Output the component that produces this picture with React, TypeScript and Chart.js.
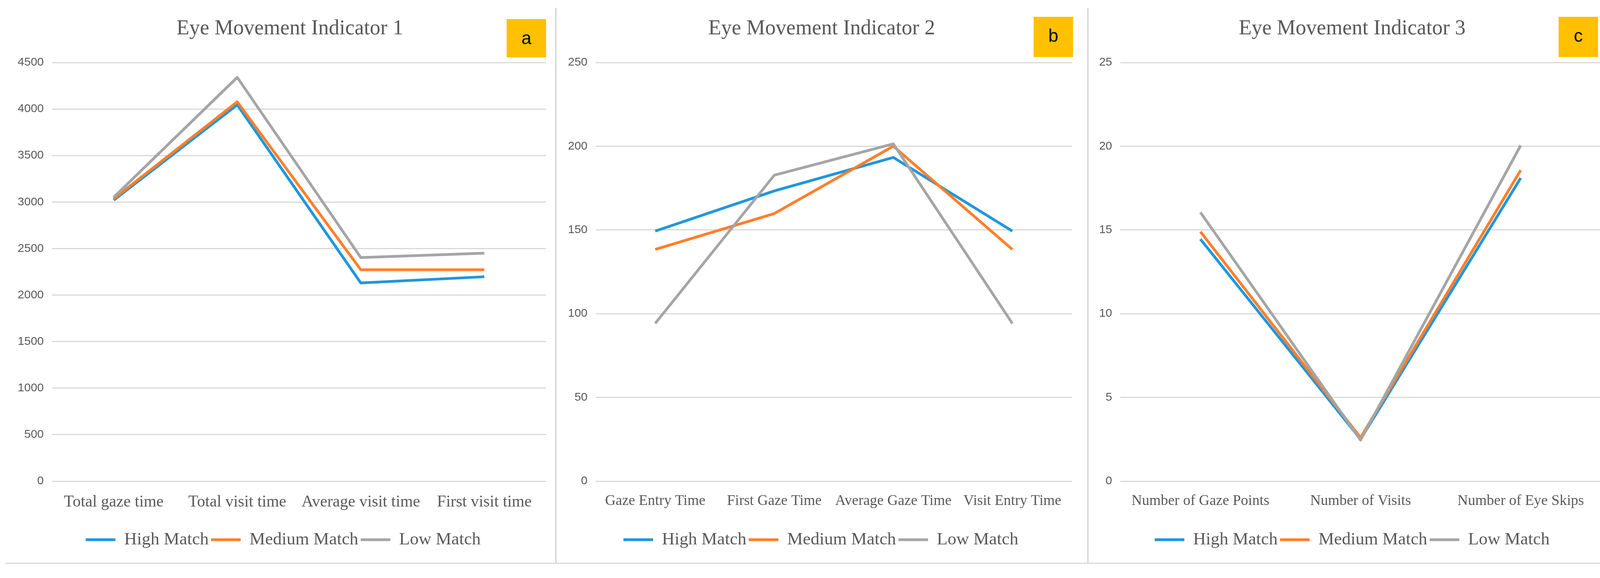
import React, { useEffect, useRef } from 'react';
import { Chart, registerables } from 'chart.js';

Chart.register(...registerables);

// ---------- data ----------
const seriesNames = ['High Match', 'Medium Match', 'Low Match'];
const seriesColors = ['#2196DC', '#FF7F2A', '#A5A5A5'];

const titleA = 'Eye Movement Indicator 1';
const catsA = ['Total gaze time', 'Total visit time', 'Average visit time', 'First visit time'];
const highA = [3020, 4045, 2130, 2197];
const mediumA = [3035, 4077, 2272, 2272];
const lowA = [3052, 4340, 2403, 2450];

const titleB = 'Eye Movement Indicator 2';
const catsB = ['Gaze Entry Time', 'First Gaze Time', 'Average Gaze Time', 'Visit Entry Time'];
const highB = [149.3, 173.3, 193.3, 149.3];
const mediumB = [138.4, 159.8, 200, 138.4];
const lowB = [94.2, 182.7, 201.4, 94.2];

const titleC = 'Eye Movement Indicator 3';
const catsC = ['Number of Gaze Points', 'Number of Visits', 'Number of Eye Skips'];
const highC = [14.45, 2.5, 18.1];
const mediumC = [14.9, 2.6, 18.57];
const lowC = [16.05, 2.45, 20.05];

// ---------- plugin for the yellow letter box ----------
const letterBoxPlugin = {
  id: 'letterBox',
  afterDraw(chart: any, _args: any, opts: any) {
    if (!opts || !opts.text) return;
    const { ctx, chartArea } = chart;
    const right = chartArea.right + opts.dx;
    const w = 101;
    const top = opts.top;
    const h = opts.height;
    ctx.save();
    ctx.fillStyle = '#FFC000';
    ctx.fillRect(right - w, top, w, h);
    ctx.fillStyle = '#000000';
    ctx.font = '46px "Liberation Sans", Arial, sans-serif';
    ctx.textAlign = 'center';
    ctx.textBaseline = 'alphabetic';
    ctx.fillText(opts.text, right - w / 2, top + 64);
    ctx.restore();
  },
};

// shifts the title and legend boxes horizontally after layout
const shiftBoxesPlugin = {
  id: 'shiftBoxes',
  afterLayout(chart: any, _args: any, opts: any) {
    const t = chart.titleBlock;
    if (t && opts.titleDx) {
      t.left += opts.titleDx;
      t.right += opts.titleDx;
    }
    const l = chart.legend;
    if (l && opts.legendDx) {
      l.left += opts.legendDx;
      l.right += opts.legendDx;
    }
  },
};

type PanelCfg = {
  left: number;
  width: number;
  title: string;
  letter: string;
  cats: string[];
  series: number[][];
  yMax: number;
  yStep: number;
  catSize: number;
  padLeft: number;
  padRight: number;
  yWidth: number;
  boxDx: number;
  boxTop: number;
  boxHeight: number;
  titleDx: number;
  legendDx: number;
};

const CANVAS_H = 1443;
const serif = '"Liberation Serif", "Times New Roman", serif';
const sans = '"Liberation Sans", Arial, sans-serif';

function Panel({ cfg }: { cfg: PanelCfg }) {
  const ref = useRef<HTMLCanvasElement>(null);
  useEffect(() => {
    if (!ref.current) return;
    const chart = new Chart(ref.current, {
      type: 'line',
      data: {
        labels: cfg.cats,
        datasets: cfg.series.map((s, i) => ({
          label: seriesNames[i],
          data: s,
          borderColor: seriesColors[i],
          backgroundColor: seriesColors[i],
          borderWidth: 7,
          pointRadius: 0,
          pointHoverRadius: 0,
          tension: 0,
          fill: false,
          order: 2 - i,
          borderJoinStyle: 'round',
        })),
      },
      options: {
        responsive: false,
        animation: false,
        devicePixelRatio: 1,
        events: [],
        layout: { padding: { left: cfg.padLeft, right: cfg.padRight, top: 0, bottom: 28.5 } },
        plugins: {
          title: {
            display: true,
            text: cfg.title,
            color: '#595959',
            font: { family: serif, size: 54, weight: 'normal', lineHeight: 1.2 },
            padding: { top: 41.5, bottom: 53.7 },
            fullSize: true,
          },
          legend: {
            position: 'bottom',
            labels: {
              color: '#595959',
              font: { family: serif, size: 45 },
              boxWidth: 76,
              boxHeight: 7,
              padding: 6,
              sort: (a: any, b: any) => a.datasetIndex - b.datasetIndex,
              generateLabels: (c: any) =>
                (Chart.defaults.plugins.legend.labels as any)
                  .generateLabels(c)
                  .map((l: any) => ({ ...l, lineWidth: 0 })),
            },
          },
          tooltip: { enabled: false },
          letterBox: { text: cfg.letter, dx: cfg.boxDx, top: cfg.boxTop, height: cfg.boxHeight },
          shiftBoxes: { titleDx: cfg.titleDx, legendDx: cfg.legendDx },
        } as any,
        scales: {
          x: {
            offset: true,
            grid: { display: false, drawTicks: false },
            border: { display: false },
            ticks: {
              color: '#595959',
              font: { family: serif, size: cfg.catSize },
              padding: 29,
              maxRotation: 0,
              minRotation: 0,
              autoSkip: false,
            },
            afterFit: (s: any) => {
              s.height = 121.5;
            },
          },
          y: {
            min: 0,
            max: cfg.yMax,
            ticks: {
              stepSize: cfg.yStep,
              color: '#595959',
              font: { family: sans, size: 30 },
              padding: 21,
              callback: (v: any) => String(v),
            },
            grid: { color: '#D9D9D9', lineWidth: 3, drawTicks: false },
            border: { display: false },
            afterFit: (s: any) => {
              s.width = cfg.yWidth;
            },
          },
        },
      },
      plugins: [letterBoxPlugin as any, shiftBoxesPlugin as any],
    });
    return () => chart.destroy();
  }, []);
  return (
    <canvas
      ref={ref}
      width={cfg.width}
      height={CANVAS_H}
      style={{ position: 'absolute', left: cfg.left, top: 0, width: cfg.width, height: CANVAS_H }}
    />
  );
}

const panels: PanelCfg[] = [
  {
    left: 0, width: 1423, title: titleA, letter: 'a', cats: catsA, series: [highA, mediumA, lowA],
    yMax: 4500, yStep: 500, catSize: 41.5, padLeft: 36, padRight: 25, yWidth: 97,
    boxDx: 0, boxTop: 49, boxHeight: 98, titleDx: 25, legendDx: 8,
  },
  {
    left: 1423, width: 1362, title: titleB, letter: 'b', cats: catsB, series: [highB, mediumB, lowB],
    yMax: 250, yStep: 50, catSize: 37.5, padLeft: 20, padRight: 41, yWidth: 82,
    boxDx: 3, boxTop: 43, boxHeight: 103, titleDx: 10, legendDx: 8,
  },
  {
    left: 2785, width: 1354, title: titleC, letter: 'c', cats: catsC, series: [highC, mediumC, lowC],
    yMax: 25, yStep: 5, catSize: 37.5, padLeft: 20, padRight: 41, yWidth: 63,
    boxDx: -7, boxTop: 43, boxHeight: 103, titleDx: 10, legendDx: 10,
  },
];

const lineColor = '#D9D9D9';

export default function App() {
  return (
    <div style={{ position: 'fixed', left: 0, top: 0, width: 4168, height: 1480, background: '#ffffff', overflow: 'hidden' }}>
      {panels.map((p, i) => (
        <Panel key={i} cfg={p} />
      ))}
      <div style={{ position: 'absolute', left: 1421, top: 20, width: 4, height: 1424, background: lineColor }} />
      <div style={{ position: 'absolute', left: 2783, top: 20, width: 4, height: 1424, background: lineColor }} />
      <div style={{ position: 'absolute', left: 4136, top: 20, width: 4, height: 1424, background: lineColor }} />
      <div style={{ position: 'absolute', left: 13, top: 1441, width: 4127, height: 3, background: lineColor }} />
    </div>
  );
}
